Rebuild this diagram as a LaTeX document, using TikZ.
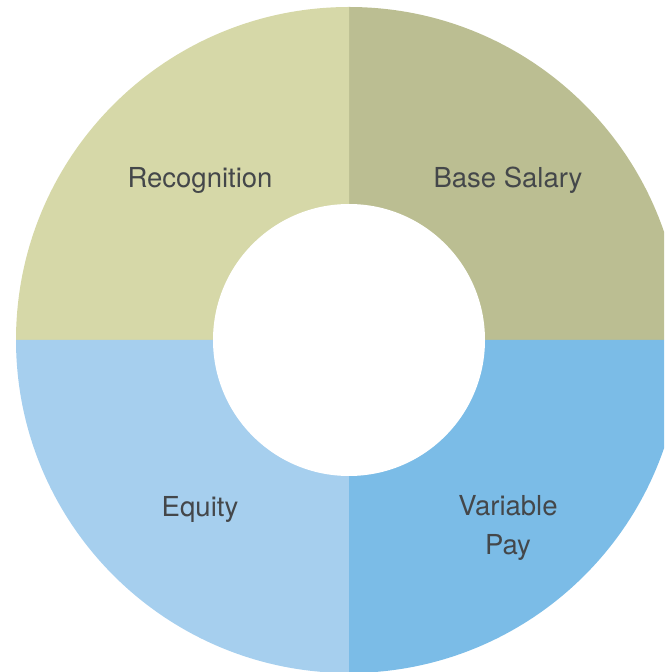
\documentclass[tikz,border=0pt]{standalone}
\usepackage{fontspec}
\setmainfont{TeX Gyre Heros}
\usetikzlibrary{calc}
\definecolor{salarycol}{HTML}{BBBE92}
\definecolor{recogcol}{HTML}{D6D8A8}
\definecolor{equitycol}{HTML}{A6CFEE}
\definecolor{paycol}{HTML}{7BBCE7}
\definecolor{labelcol}{HTML}{44474A}
\tikzstyle{label} = [text=labelcol, align=center, font=\fontsize{27.5}{39.5}\selectfont]

\begin{document}
\begin{tikzpicture}[x=1pt, y=1pt]

   \useasboundingbox (0,0) rectangle (664,672);
   \clip (0,0) rectangle (664,672);
   \coordinate (C) at (349,332);

    % the four quarters of the ring
    \foreach \start/ \stop / \col in {0/90/salarycol, 90/180/recogcol, 180/270/equitycol, 270/360/paycol}
        \fill[\col] (C) -- ++(\start:333) arc (\start:\stop:333) -- cycle;
    \fill[white] (C) circle (136);

    \node[label] (salary) at (508, 492) {Base Salary};
    \node[label] (recog) at (200, 492) {Recognition};
    \node[label] (equity) at (200, 163) {Equity};
    \node[label] (pay) at (508, 144) {Variable\\Pay};
       \end{tikzpicture}
\end{document}
